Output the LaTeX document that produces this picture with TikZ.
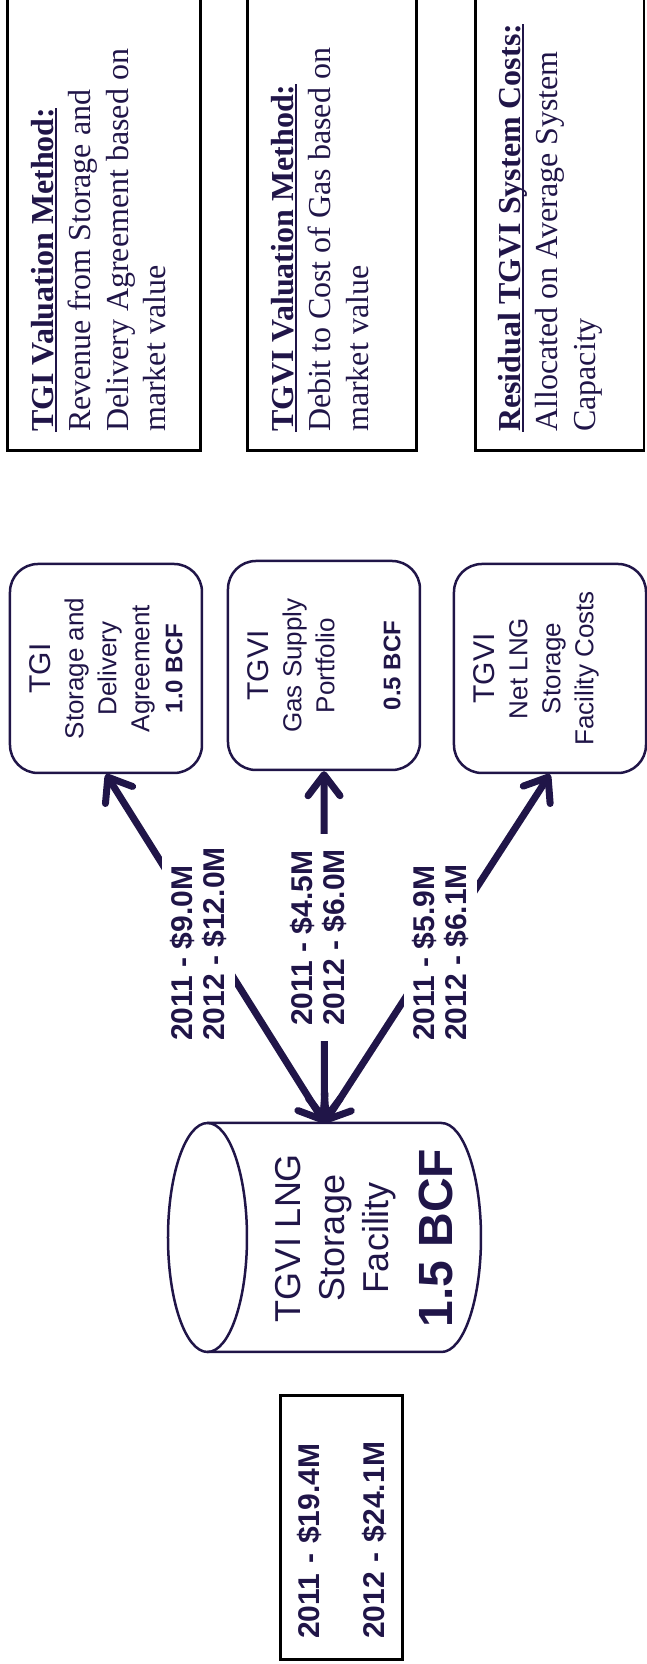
\documentclass[tikz,border=0pt]{standalone}
\usepackage{fontspec}
\setmainfont{Liberation Sans}
\newfontfamily\timesfont{Liberation Serif}
\usetikzlibrary{arrows.meta}
\definecolor{navy}{RGB}{32,21,72}
\newcommand{\headul}[1]{\setbox0\hbox{\textbf{#1}}\leavevmode\rlap{\rule[-4pt]{\wd0}{2.8pt}}\box0}

\begin{document}
\begin{tikzpicture}[x=1pt, y=1pt, rotate=90, transform shape,
  method/.style={draw=black, line width=2.5pt, anchor=south west, inner sep=0pt, minimum width=470pt},
  methodtext/.style={anchor=north west, inner sep=0pt, align=left, text=navy,
    font=\timesfont\fontsize{32}{37.5}\selectfont},
  party/.style={draw=navy, line width=2.5pt, rounded corners=28pt, minimum width=209pt,
    minimum height=192pt, align=center, text=navy, font=\fontsize{26}{33}\selectfont},
  amount/.style={fill=white, align=left, text=navy, inner xsep=15pt, inner ysep=8pt,
    font=\bfseries\fontsize{30}{32}\selectfont},
  flow/.style={draw=navy, line width=7pt, >={Straight Barb[length=21pt,width=32pt,round]}, <->}
]
  \useasboundingbox (0,0) rectangle (1664,647);
  \clip (0,0) rectangle (1664,647);

  % Valuation methods
  \node[method, minimum height=193pt] (m1) at (1212,445) {};
  \node[method, minimum height=169pt] (m2) at (1212,229) {};
  \node[method, minimum height=168pt] (m3) at (1212,2) {};
  \node[methodtext] (m1txt) at (1232,616) {\headul{TGI Valuation Method:}\\Revenue from Storage and\\Delivery Agreement based on\\market value};
  \node[methodtext] (m2txt) at (1232,376) {\headul{TGVI Valuation Method:}\\Debit to Cost of Gas based on\\market value};
  \node[methodtext] (m3txt) at (1232,149) {\headul{Residual TGVI System Costs:}\\Allocated on Average System\\Capacity};

  % Parties
  \node[party] (tgi) at (995.5,541) {{\fontsize{30}{33}\selectfont TGI}\\Storage and\\Delivery\\Agreement\\{\bfseries\fontsize{24}{33}\selectfont 1.0 BCF}};
  \node[party] (gas) at (998.5,323) {{\fontsize{30}{33}\selectfont TGVI}\\Gas Supply\\Portfolio\\[33pt]{\bfseries\fontsize{24}{33}\selectfont 0.5 BCF}};
  \node[party] (net) at (995.5,97) {{\fontsize{30}{33}\selectfont TGVI}\\Net LNG\\Storage\\Facility Costs\\ \mbox{}};

  % Storage facility
  \node[minimum width=229pt, minimum height=313pt, inner sep=0pt] (tank) at (426.5,322.5) {};
  \draw[navy, line width=2.5pt] (426.5,439.5) ellipse[x radius=114.5, y radius=39.5];
  \draw[navy, line width=2.5pt] (312,439.5) -- (312,205.5)
    arc[start angle=180, end angle=360, x radius=114.5, y radius=39.5] -- (541,439.5);
  \node[text=navy, align=center, font=\fontsize{36}{44}\selectfont] (tanktxt) at (426,283)
    {TGVI LNG\\Storage\\Facility\\[20pt]{\bfseries\fontsize{48}{44}\selectfont 1.5 BCF}};

  % Totals
  \node[draw=black, line width=2.5pt, anchor=south west, text width=222pt, inner xsep=21pt,
    minimum height=122pt, align=left, text=navy, font=\bfseries\fontsize{30}{32}\selectfont]
    (total) at (3,243) {2011 - \$19.4M\\[33pt]2012 - \$24.1M};

  % Flows
  \draw[flow] (tank.east) -- (tgi.west);
  \draw[flow] (tank.east) -- (gas.west);
  \draw[flow] (tank.east) -- (net.west);
  \node[amount] (f1) at (720,448.5) {2011 - \$9.0M\\2012 - \$12.0M};
  \node[amount] (f2) at (726.5,328.5) {2011 - \$4.5M\\2012 - \$6.0M};
  \node[amount] (f3) at (711.5,206.5) {2011 - \$5.9M\\2012 - \$6.1M};
\end{tikzpicture}
\end{document}
